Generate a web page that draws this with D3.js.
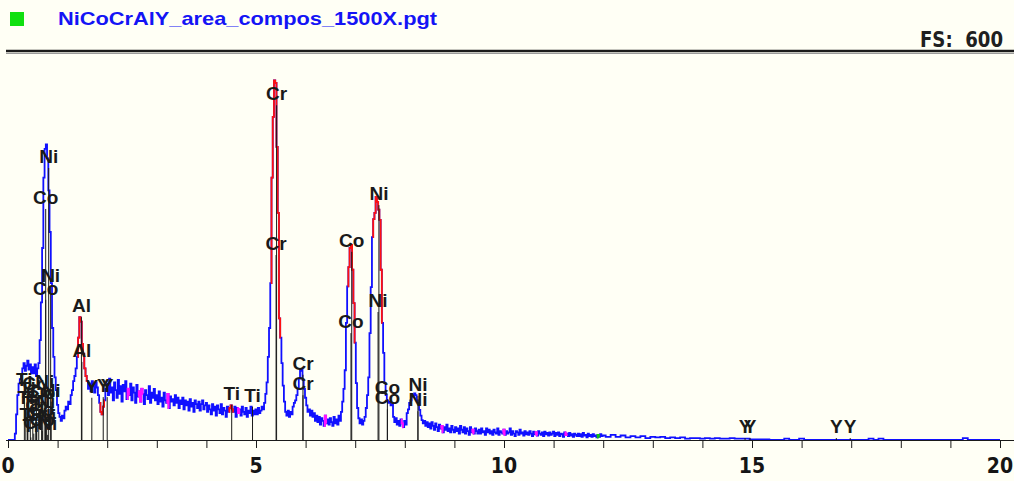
<!DOCTYPE html>
<html lang="en">
<head>
<meta charset="utf-8">
<title>NiCoCrAlY EDS spectrum</title>
<script src="https://d3js.org/d3.v7.min.js"></script>
<style>
  body { margin: 0; background: #fffff5; }
  svg { display: block; }
  .narrow { font-family: "Liberation Sans Narrow", "DejaVu Sans Condensed", "Arial Narrow", sans-serif; font-weight: bold; }
  .lbl { font-family: "Liberation Sans", Arial, sans-serif; font-weight: bold; font-size: 19px; fill: #1a1a1a; }
</style>
</head>
<body>
<div id="chart"></div>
<script>
// spectrum counts, 0 - 12 keV every 0.025 keV (one row = 0.5 keV)
const lowStep = 0.025;
const lowCounts = [
  0,0,0,0,0,0,10,40,70,88,95,102,112,120,108,116,124,110,118,104,
  114,104,118,100,112,120,156,215,300,410,455,462,440,390,325,245,175,130,98,78,
  55,42,36,30,38,34,46,52,48,60,56,70,78,92,100,112,130,160,192,185,
  150,135,112,100,92,80,88,76,92,84,74,90,82,70,58,44,40,52,62,80,
  88,70,96,74,82,62,90,78,66,94,72,84,60,86,76,92,64,80,70,88,
  62,82,74,58,86,68,76,60,80,72,56,78,70,64,84,58,74,66,80,62,
  70,56,76,60,66,52,74,62,58,72,50,68,60,64,54,70,58,66,50,62,
  56,66,48,62,54,60,46,64,52,58,44,62,56,50,60,46,56,62,48,54,
  58,44,54,48,40,56,46,52,38,54,48,42,56,40,50,46,36,52,44,50,
  54,48,44,52,36,50,42,48,38,52,44,40,50,36,46,42,52,38,46,40,
  48,40,50,42,46,52,48,58,72,90,130,175,245,410,505,562,558,458,355,190,
  160,120,85,60,44,38,46,36,44,40,52,58,62,70,80,96,108,110,94,80,
  66,54,44,48,38,46,36,42,30,38,28,36,24,34,30,22,38,26,32,24,
  34,28,22,36,26,32,24,38,30,44,60,80,109,183,240,270,300,305,266,214,
  152,89,50,34,26,32,24,30,36,50,70,98,167,239,317,345,355,380,372,360,
  344,266,183,136,89,70,62,58,60,54,56,36,28,34,24,30,22,32,26,20,
  30,24,42,48,58,62,70,68,73,70,62,58,47,38,31,26,30,22,28,20,
  26,18,28,22,16,26,20,14,24,18,22,12,20,16,24,14,18,12,22,16,
  12,20,14,18,10,22,16,12,20,10,18,14,8,20,12,16,10,18,14,10,
  16,10,18,12,14,8,18,12,16,10,14,8,16,12,10,18,8,14,12,10,
  16,8,14,10,12,18,8,14,10,6,14,12,8,16,10,12,7,14,9,12,
  8,14,10,6,13,9,12,7,14,10,8,12,6,13,9,11,7,12,8,10,
  13,6,11,8,12,6,10,9,5,12,8,10,6,11,7,9,5,10,8,6,
  10,6,9,5,11,7,8,4,10,6,8,5,9,6,7,4,8,5,9,6,
  7
];
// 12.1 - 20 keV every 0.1 keV
const highStep = 0.1;
const highCounts = [
  5,8,5,7,4,6,4,6,3,5,
  4,5,3,4,3,4,2,3,3,2,
  3,2,3,2,2,3,2,2,2,1,
  1,1,1,0,0,0,2,0,0,2,
  0,0,0,0,0,0,0,0,0,0,
  0,0,0,2,0,2,0,0,0,0,
  0,0,0,0,0,0,0,0,0,0,
  0,0,3,0,0,0,0,0,0,0
];

// coloured parts of the trace (keV)
const redRanges = [[1.40, 1.60], [1.83, 1.96], [4.45, 4.56], [5.30, 5.50], [6.85, 7.00], [7.35, 7.55]];
const magentaKeV = [2.42, 2.66, 2.70, 3.23, 4.64, 6.40, 7.94, 8.76, 9.38, 10.0, 10.66, 11.24];
const greenKeV = [11.9];

// element markers: label, energy (keV), line height (counts)
const markerEl  = ["Ti","Ti","Ti","Cr","Cr","Co","Ni","Co","Ni","Ti","Cr","Ni","Co","Cr","Ti","Ni",
                   "Cr","Co","Ti","Ni",
                   "Ni","Co","Ni","Co",
                   "Al","Al","Y","Y","Y",
                   "Ti","Ti",
                   "Cr","Cr","Cr","Cr",
                   "Co","Co","Ni","Ni",
                   "Co","Co","Ni","Ni",
                   "Y","Y","Y","Y"];
const markerKeV = [0.33,0.395,0.45,0.50,0.573,0.678,0.743,0.69,0.87,0.40,0.52,0.76,0.62,0.58,0.46,0.80,
                   0.56,0.70,0.36,0.78,
                   0.82,0.76,0.86,0.76,
                   1.48,1.49,1.69,1.92,2.00,
                   4.51,4.93,
                   5.415,5.405,5.947,5.947,
                   6.930,6.915,7.478,7.461,
                   7.649,7.649,8.265,8.265,
                   14.86,14.96,16.70,16.98];
const markerTop = [76,62,40,70,50,30,74,14,60,22,10,42,60,24,4,8,
                   36,56,48,20,
                   425,361,239,219,
                   192,122,66,67,67,
                   55,52,
                   523,289,102,70,
                   294,167,367,200,
                   64,48,69,45,
                   3,3,3,3];

const xTicks = d3.range(0, 21, 1);
const xTickLabels = [0, 5, 10, 15, 20];
const fullScale = 600;
const title = "NiCoCrAlY_area_compos_1500X.pgt";

const W = 1014, H = 481;
const svg = d3.select("#chart").append("svg")
    .attr("width", W).attr("height", H);
svg.append("rect").attr("width", W).attr("height", H).attr("fill", "#fffff5");

const x = d3.scaleLinear().domain([0, 20]).range([8, 1000]);
const y = d3.scaleLinear().domain([0, fullScale]).range([440, 56]);

// header
svg.append("rect").attr("x", 10).attr("y", 12).attr("width", 14).attr("height", 14).attr("fill", "#10e010");
svg.append("text").attr("x", 58).attr("y", 25)
    .attr("font-family", "Liberation Sans, Arial, sans-serif").attr("font-weight", "bold")
    .attr("font-size", 19).attr("fill", "#1414f5")
    .attr("textLength", 379).attr("lengthAdjust", "spacingAndGlyphs")
    .text(title);
svg.append("text").attr("class", "narrow").attr("x", 920).attr("y", 47)
    .attr("font-size", 22).attr("fill", "#202020")
    .attr("textLength", 83).attr("lengthAdjust", "spacingAndGlyphs")
    .style("white-space", "pre")
    .text("FS:  " + fullScale);
svg.append("line").attr("x1", 6).attr("x2", W).attr("y1", 51).attr("y2", 51)
    .attr("stroke", "#1a1a1a").attr("stroke-width", 2.5);
svg.append("line").attr("x1", 6).attr("x2", W).attr("y1", 53.5).attr("y2", 53.5)
    .attr("stroke", "#9a9a9a").attr("stroke-width", 1);

// spectrum points
const pts = lowCounts.map((c, i) => ({e: +(i * lowStep).toFixed(3), c}))
  .concat(highCounts.map((c, i) => ({e: +(12 + (i + 1) * highStep).toFixed(3), c})));

const line = d3.line().x(d => x(d.e)).y(d => y(d.c)).curve(d3.curveStep);

svg.append("path").datum(pts).attr("d", line)
    .attr("fill", "none").attr("stroke", "#1010ff").attr("stroke-width", 1.8);

redRanges.forEach(r => {
  svg.append("path").datum(pts.filter(d => d.e >= r[0] - 1e-6 && d.e <= r[1] + 1e-6))
      .attr("d", line).attr("fill", "none").attr("stroke", "#ff1010").attr("stroke-width", 1.8);
});

function nearestIndex(e) {
  return d3.leastIndex(pts, d => Math.abs(d.e - e));
}
function markSpot(list, colour) {
  list.forEach(e => {
    const i = nearestIndex(e);
    svg.append("path").datum(pts.slice(i - 1, i + 2)).attr("d", line)
        .attr("fill", "none").attr("stroke", colour).attr("stroke-width", 2);
  });
}
markSpot(magentaKeV, "#ff10ff");
markSpot(greenKeV, "#10c010");

// axis
svg.append("line").attr("x1", 6).attr("x2", W).attr("y1", 440.5).attr("y2", 440.5)
    .attr("stroke", "#1a1a1a").attr("stroke-width", 1);
const axis = d3.axisBottom(x).tickValues(xTicks).tickSize(8).tickFormat("");
const ag = svg.append("g").attr("transform", "translate(0,440)").call(axis);
ag.select(".domain").remove();
ag.selectAll(".tick line").attr("stroke", "#1a1a1a");
svg.selectAll(".tlabel").data(xTickLabels).join("text")
    .attr("class", "narrow tlabel")
    .attr("x", d => x(d)).attr("y", 473)
    .attr("text-anchor", "middle").attr("font-size", 21).attr("fill", "#151515")
    .text(d => d);

// element markers
const markers = markerEl.map((el, i) => ({el, e: markerKeV[i], h: markerTop[i]}));
svg.append("g").selectAll("line").data(markers).join("line")
    .attr("x1", d => x(d.e)).attr("x2", d => x(d.e))
    .attr("y1", y(0)).attr("y2", d => y(d.h))
    .attr("stroke", "#1a1a1a").attr("stroke-width", 1);
svg.append("g").selectAll("text").data(markers).join("text")
    .attr("class", "lbl")
    .attr("x", d => x(d.e)).attr("y", d => y(d.h) - 5)
    .attr("text-anchor", "middle")
    .text(d => d.el);
</script>
</body>
</html>
